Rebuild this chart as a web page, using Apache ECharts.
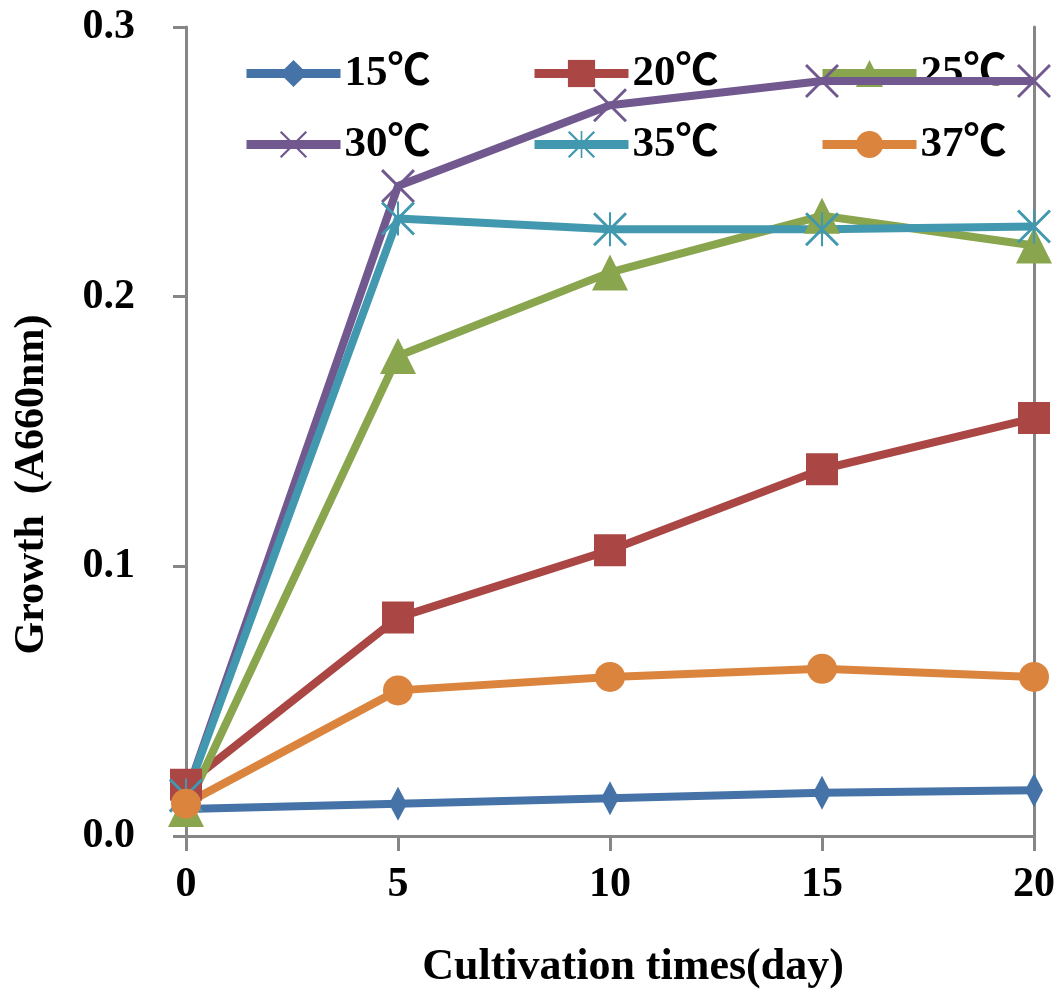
<!DOCTYPE html>
<html>
<head>
<meta charset="utf-8">
<script src="https://cdn.jsdelivr.net/npm/echarts@6/dist/echarts.min.js"></script>
<style>html,body{margin:0;padding:0;background:#fff}#c{width:1058px;height:995px}</style>
</head>
<body>
<div id="c"></div>
<script>
const days = [0, 5, 10, 15, 20];
const seriesNames = ['15℃', '20℃', '25℃', '30℃', '35℃', '37℃'];
const s15 = [0.010, 0.012, 0.014, 0.016, 0.017];
const s20 = [0.019, 0.081, 0.106, 0.136, 0.155];
const s25 = [0.010, 0.178, 0.209, 0.230, 0.219];
const s30 = [0.015, 0.241, 0.271, 0.280, 0.280];
const s35 = [0.015, 0.229, 0.225, 0.225, 0.226];
const s37 = [0.012, 0.054, 0.059, 0.062, 0.059];
const yTicks = [0.0, 0.1, 0.2, 0.3];
const xTicks = [0, 5, 10, 15, 20];

const allData = [s15, s20, s25, s30, s35, s37];
const colors = ['#4572A7', '#AA4643', '#89A54E', '#71588F', '#4198AF', '#DB843D'];
const xPath = 'path://M0,1.2L1.2,0L20,18.8L18.8,20ZM18.8,0L20,1.2L1.2,20L0,18.8Z';
const starPath = 'path://M0,1.2L1.2,0L20,18.8L18.8,20ZM18.8,0L20,1.2L1.2,20L0,18.8ZM9.4,0L10.6,0L10.6,20L9.4,20Z';
const symbols = ['diamond', 'rect', 'triangle', xPath, starPath, 'circle'];
const symSizes = [[18, 34], 32, 36, 34, 34, 30];

const font = '"Liberation Serif", "Times New Roman", "Noto Sans CJK SC", serif';

const series = seriesNames.map((n, i) => ({
  name: n,
  type: 'line',
  data: days.map((d, j) => [d, allData[i][j]]),
  symbol: symbols[i],
  symbolSize: symSizes[i],
  lineStyle: { width: 8, color: colors[i] },
  itemStyle: { color: colors[i] },
  z: 3
}));

const legendPos = [[242, 52], [530, 52], [818, 52], [242, 123], [530, 123], [818, 123]];
const legends = seriesNames.map((n, i) => ({
  data: [n],
  left: legendPos[i][0],
  top: legendPos[i][1],
  padding: 0,
  itemWidth: 94,
  itemHeight: 34,
  itemGap: 0,
  z: 1,
  lineStyle: { width: 9 },
  textStyle: { fontFamily: font, fontWeight: 'bold', fontSize: 43, color: '#000', padding: [6, 0, 0, -1] }
}));

const chart = echarts.init(document.getElementById('c'), null, { renderer: 'canvas' });
chart.setOption({
  animation: false,
  backgroundColor: '#fff',
  color: colors,
  legend: legends,
  grid: { left: 186, right: 23, top: 27, bottom: 158, containLabel: false },
  xAxis: {
    type: 'value',
    min: xTicks[0], max: xTicks[xTicks.length - 1], interval: 5,
    name: 'Cultivation times(day)',
    nameLocation: 'middle',
    nameGap: 110,
    nameTextStyle: { fontFamily: font, fontWeight: 'bold', fontSize: 44, color: '#000', padding: [0, 0, 0, 46] },
    axisLine: { lineStyle: { color: '#868686', width: 3 } },
    axisTick: { length: 15, lineStyle: { color: '#868686', width: 3 } },
    axisLabel: { margin: 28, fontFamily: font, fontWeight: 'bold', fontSize: 42, color: '#000' },
    splitLine: { show: false }
  },
  yAxis: [{
    type: 'value',
    min: yTicks[0], max: yTicks[yTicks.length - 1], interval: 0.1,
    name: 'Growth  (A660nm)',
    nameLocation: 'middle',
    nameGap: 133,
    nameTextStyle: { fontFamily: font, fontWeight: 'bold', fontSize: 42, color: '#000', padding: [0, 106, 0, 0] },
    axisLine: { show: true, lineStyle: { color: '#868686', width: 3 } },
    axisTick: { show: true, length: 13, lineStyle: { color: '#868686', width: 3 } },
    axisLabel: { margin: 51, formatter: v => v.toFixed(1), fontFamily: font, fontWeight: 'bold', fontSize: 42, color: '#000' },
    splitLine: { show: false }
  }, {
    type: 'value',
    position: 'right',
    min: 0, max: 0.3,
    axisLine: { show: true, lineStyle: { color: '#868686', width: 3 } },
    axisTick: { show: false },
    axisLabel: { show: false },
    splitLine: { show: false }
  }],
  series: series
});
</script>
</body>
</html>
